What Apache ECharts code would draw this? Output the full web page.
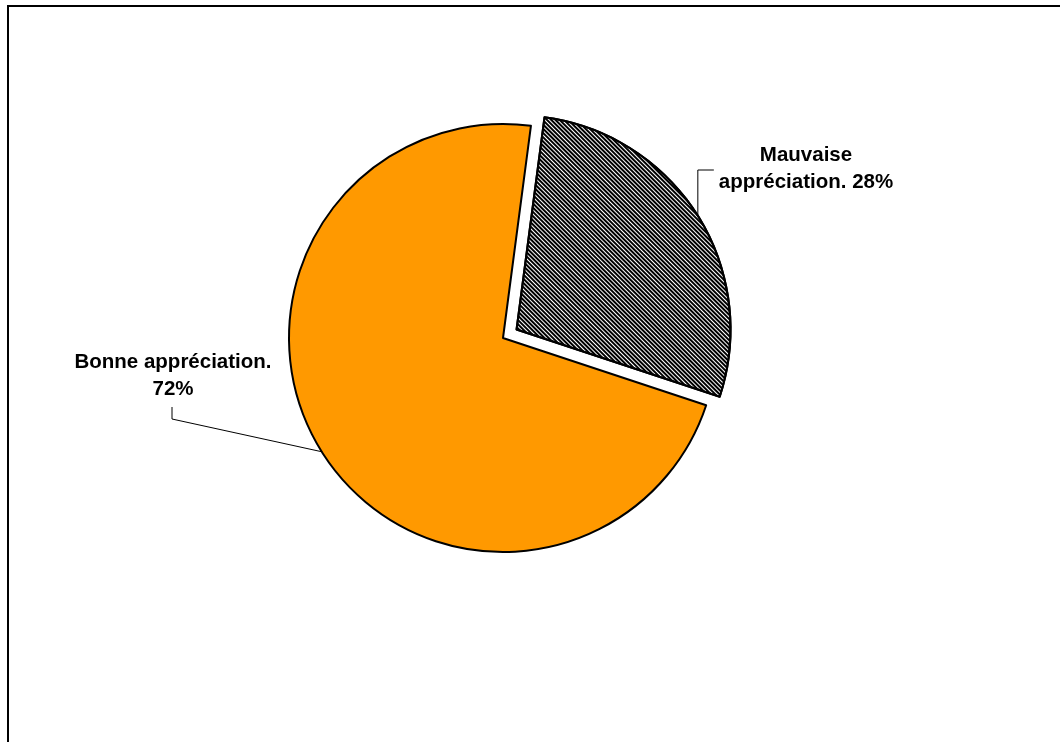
<!DOCTYPE html>
<html><head><meta charset="utf-8">
<script src="https://cdn.jsdelivr.net/npm/echarts@6/dist/echarts.min.js"></script>
<style>html,body{margin:0;padding:0;background:#fff}#c{width:1060px;height:742px}</style>
</head><body><div id="c"></div>
<script>
const categories = ['Mauvaise appréciation', 'Bonne appréciation'];
const values = [28, 72];
const labelTexts = ['Mauvaise\nappréciation. 28%', 'Bonne appréciation.\n72%'];
const sliceColors = ['#ffffff', '#ff9900'];
const explodedIndex = 0;

const labelPos = [{x: 806, y: 169}, {x: 173, y: 376}];
const pieCenter = [503, 338];
const pieRadius = 214;
const startAngle = 82.5;
const explodeDist = 16;

const chart = echarts.init(document.getElementById('c'), null, {renderer: 'canvas'});

// offset of exploded slice along its mid angle
const total = values.reduce((s, v) => s + v, 0);
let before = 0;
for (let i = 0; i < explodedIndex; i++) before += values[i];
const midDeg = startAngle - (before + values[explodedIndex] / 2) / total * 360;
const midRad = midDeg * Math.PI / 180;
const explodedCenter = [pieCenter[0] + Math.cos(midRad) * explodeDist, pieCenter[1] - Math.sin(midRad) * explodeDist];

const hiddenItem = {
  itemStyle: { color: 'rgba(0,0,0,0)', borderWidth: 0, decal: null },
  label: { show: false },
  labelLine: { show: false }
};

function makeData(visibleIdx) {
  return categories.map((name, i) => {
    if (i !== visibleIdx) return Object.assign({ name: name, value: values[i] }, hiddenItem);
    return {
      name: name,
      value: values[i],
      itemStyle: i === explodedIndex ? {
        color: sliceColors[i],
        decal: {
          symbol: 'rect',
          symbolSize: 1,
          dashArrayX: [1, 0],
          dashArrayY: [2, 1],
          rotation: Math.PI / 4,
          color: '#000000'
        }
      } : { color: sliceColors[i] },
      label: { formatter: labelTexts[i] }
    };
  });
}

function labelLayout(p) {
  const i = p.dataIndex;
  const pos = labelPos[i];
  const w = p.labelRect.width, h = p.labelRect.height;
  const a = p.labelLinePoints ? p.labelLinePoints[0] : [pos.x, pos.y];
  let pts;
  if (i === 0) {
    const left = pos.x - w / 2;
    pts = [a, [a[0], pos.y + 1], [left - 5, pos.y + 1]];
  } else {
    const bottom = pos.y + h / 2;
    pts = [a, [pos.x - 1, bottom + 16], [pos.x - 1, bottom + 4]];
  }
  return { x: pos.x, y: pos.y, align: 'center', verticalAlign: 'middle', labelLinePoints: pts };
}

function makeSeries(visibleIdx, center) {
  return {
    type: 'pie',
    center: center,
    radius: pieRadius,
    startAngle: startAngle,
    clockwise: true,
    selectedMode: false,
    avoidLabelOverlap: false,
    itemStyle: { borderColor: '#000', borderWidth: 2 },
    emphasis: { disabled: true },
    label: {
      show: true,
      position: 'outside',
      color: '#000',
      fontFamily: 'Liberation Sans, Arial, sans-serif',
      fontWeight: 'bold',
      fontSize: 20.5,
      lineHeight: 27,
      align: 'center'
    },
    labelLine: { show: true, length: 20, length2: 10, lineStyle: { color: '#000', width: 1 } },
    labelLayout: labelLayout,
    data: makeData(visibleIdx)
  };
}

chart.setOption({
  backgroundColor: '#ffffff',
  animation: false,
  graphic: [{
    type: 'polyline',
    shape: { points: [[8, 760], [8, 6], [1080, 6]] },
    style: { stroke: '#000', lineWidth: 2, fill: null },
    silent: true
  }],
  series: [
    makeSeries(1, pieCenter),
    makeSeries(0, explodedCenter)
  ]
});
</script></body></html>
